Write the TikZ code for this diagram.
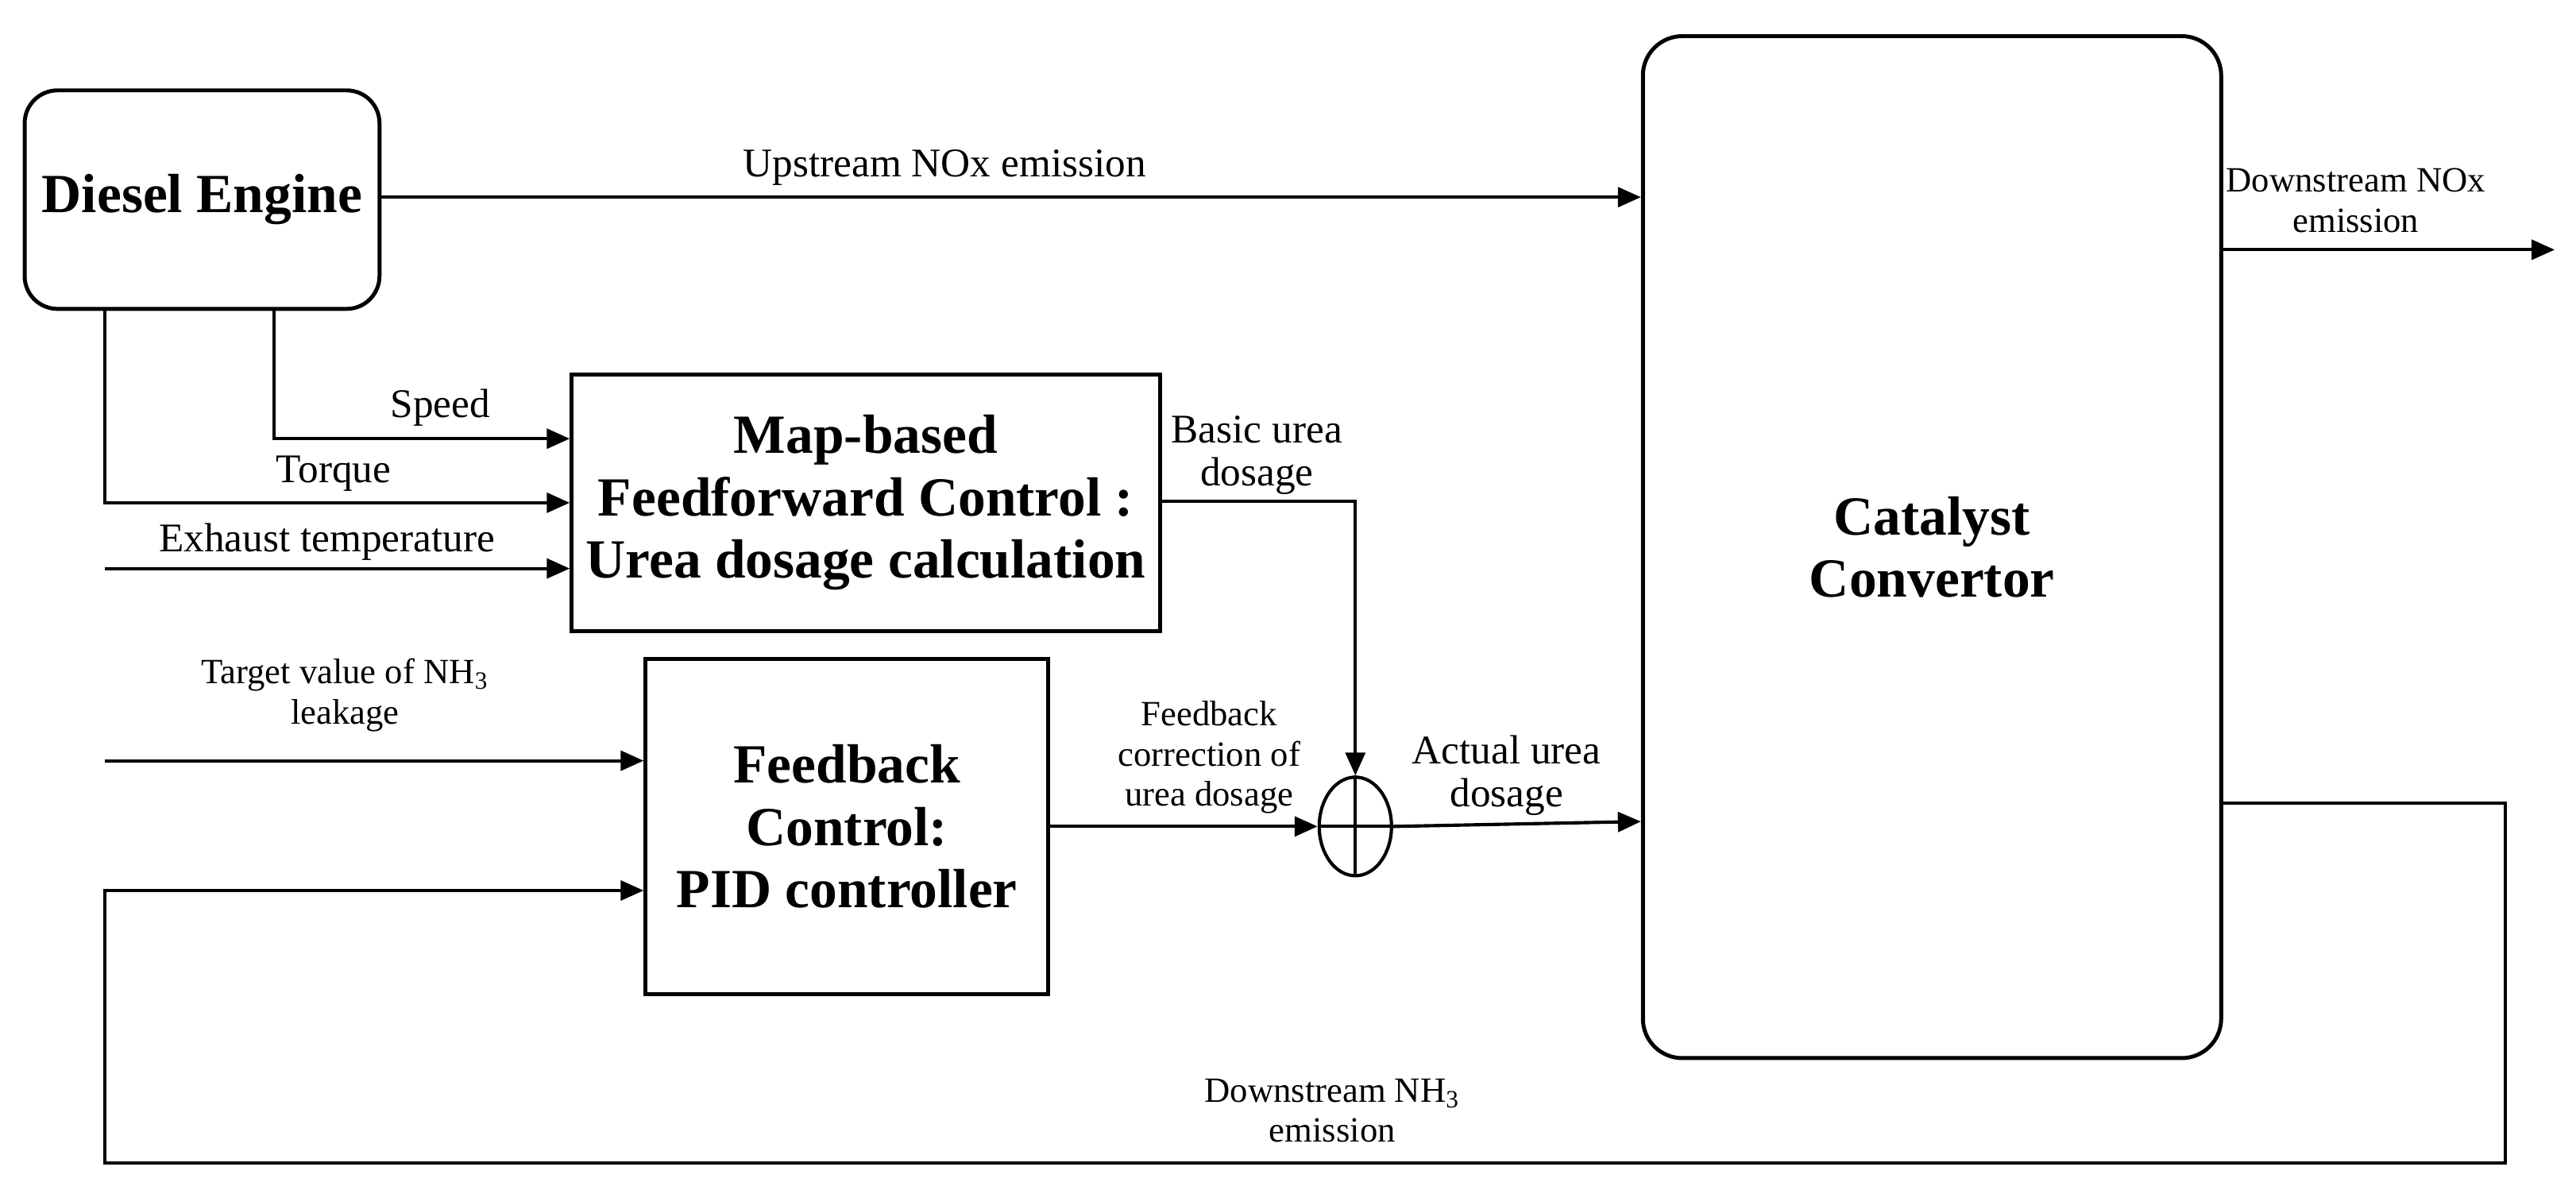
\documentclass[tikz,border=0pt]{standalone}
\usepackage{fontspec}
\setmainfont{Liberation Serif}
\usetikzlibrary{arrows.meta,shapes.geometric}
\begin{document}
\begin{tikzpicture}[x=0.5pt,y=-0.5pt,
  box/.style={draw,line width=1.2pt,inner sep=0pt,font=\fontsize{16.8}{19}\selectfont\bfseries,align=center},
  lab/.style={font=\fontsize{12.4}{13}\selectfont,align=center,inner sep=0pt},
  sml/.style={lab,font=\fontsize{10.8}{12.2}\selectfont},
  ar/.style={line width=1pt,-{Triangle[length=7pt,width=6pt]}},
  ln/.style={line width=1pt}]
\useasboundingbox (0,0) rectangle (1568,724);
\node[box,rounded corners=10pt,minimum width=108pt,minimum height=66.5pt] (de) at (123,121.5) {Diesel Engine};
\node[box,rounded corners=12pt,minimum width=176pt,minimum height=311pt] (cc) at (1176,333) {Catalyst\\Convertor};
\node[box,minimum width=179pt,minimum height=78pt] (map) at (527,306) {Map-based\\Feedforward Control :\\Urea dosage calculation};
\node[box,minimum width=122.5pt,minimum height=102pt] (fb) at (515.5,503) {Feedback\\Control:\\PID controller};
\node[draw,ellipse,line width=1pt,minimum width=22pt,minimum height=30pt,inner sep=0pt] (sum) at (825,503) {};
\draw[ln] (sum.north) -- (sum.south) (sum.west) -- (sum.east);
% upstream
\draw[ar] (de.east |- 0,120) -- (cc.west |- 0,120);
\node[lab] at (575,102) {Upstream NOx emission};
\coordinate (dn) at (1555,152);
\draw[ar] (cc.east |- dn) -- (dn);
\node[sml] at (1434,122) {Downstream NOx\\emission};
% speed torque
\draw[ar] (167,188) -- (167,267) -- (map.west |- 0,267);
\node[lab] at (268,248) {Speed};
\draw[ar] (64,188) -- (64,306) -- (map.west |- 0,306);
\node[lab] at (203,288) {Torque};
\coordinate (et) at (64,346);
\draw[ar] (et) -- (map.west |- et);
\node[lab] at (199,330) {Exhaust temperature};
% basic urea
\draw[ar] (map.east |- 0,305) -- (825,305) -- (sum.north);
\node[lab] at (765,277) {Basic urea\\dosage};
% target
\coordinate (tv) at (64,463);
\draw[ar] (tv) -- (fb.west |- tv);
\node[sml] at (210,423) {Target value of NH\textsubscript{3}\\leakage};
% feedback loop
\coordinate (l1) at (1525,489);
\coordinate (l2) at (1525,708);
\coordinate (l3) at (64,708);
\coordinate (l4) at (64,542);
\draw[ar] (cc.east |- l1) -- (l1) -- (l2) -- (l3) -- (l4) -- (fb.west |- l4);
\node[sml] at (811,676) {Downstream NH\textsubscript{3}\\emission};
% correction
\draw[ar] (fb.east |- sum) -- (sum.west);
\node[sml] at (736,461) {Feedback\\correction of\\urea dosage};
\draw[ar] (sum.east) -- (cc.west |- 0,500);
\node[lab] at (917,472) {Actual urea\\dosage};
\end{tikzpicture}
\end{document}
